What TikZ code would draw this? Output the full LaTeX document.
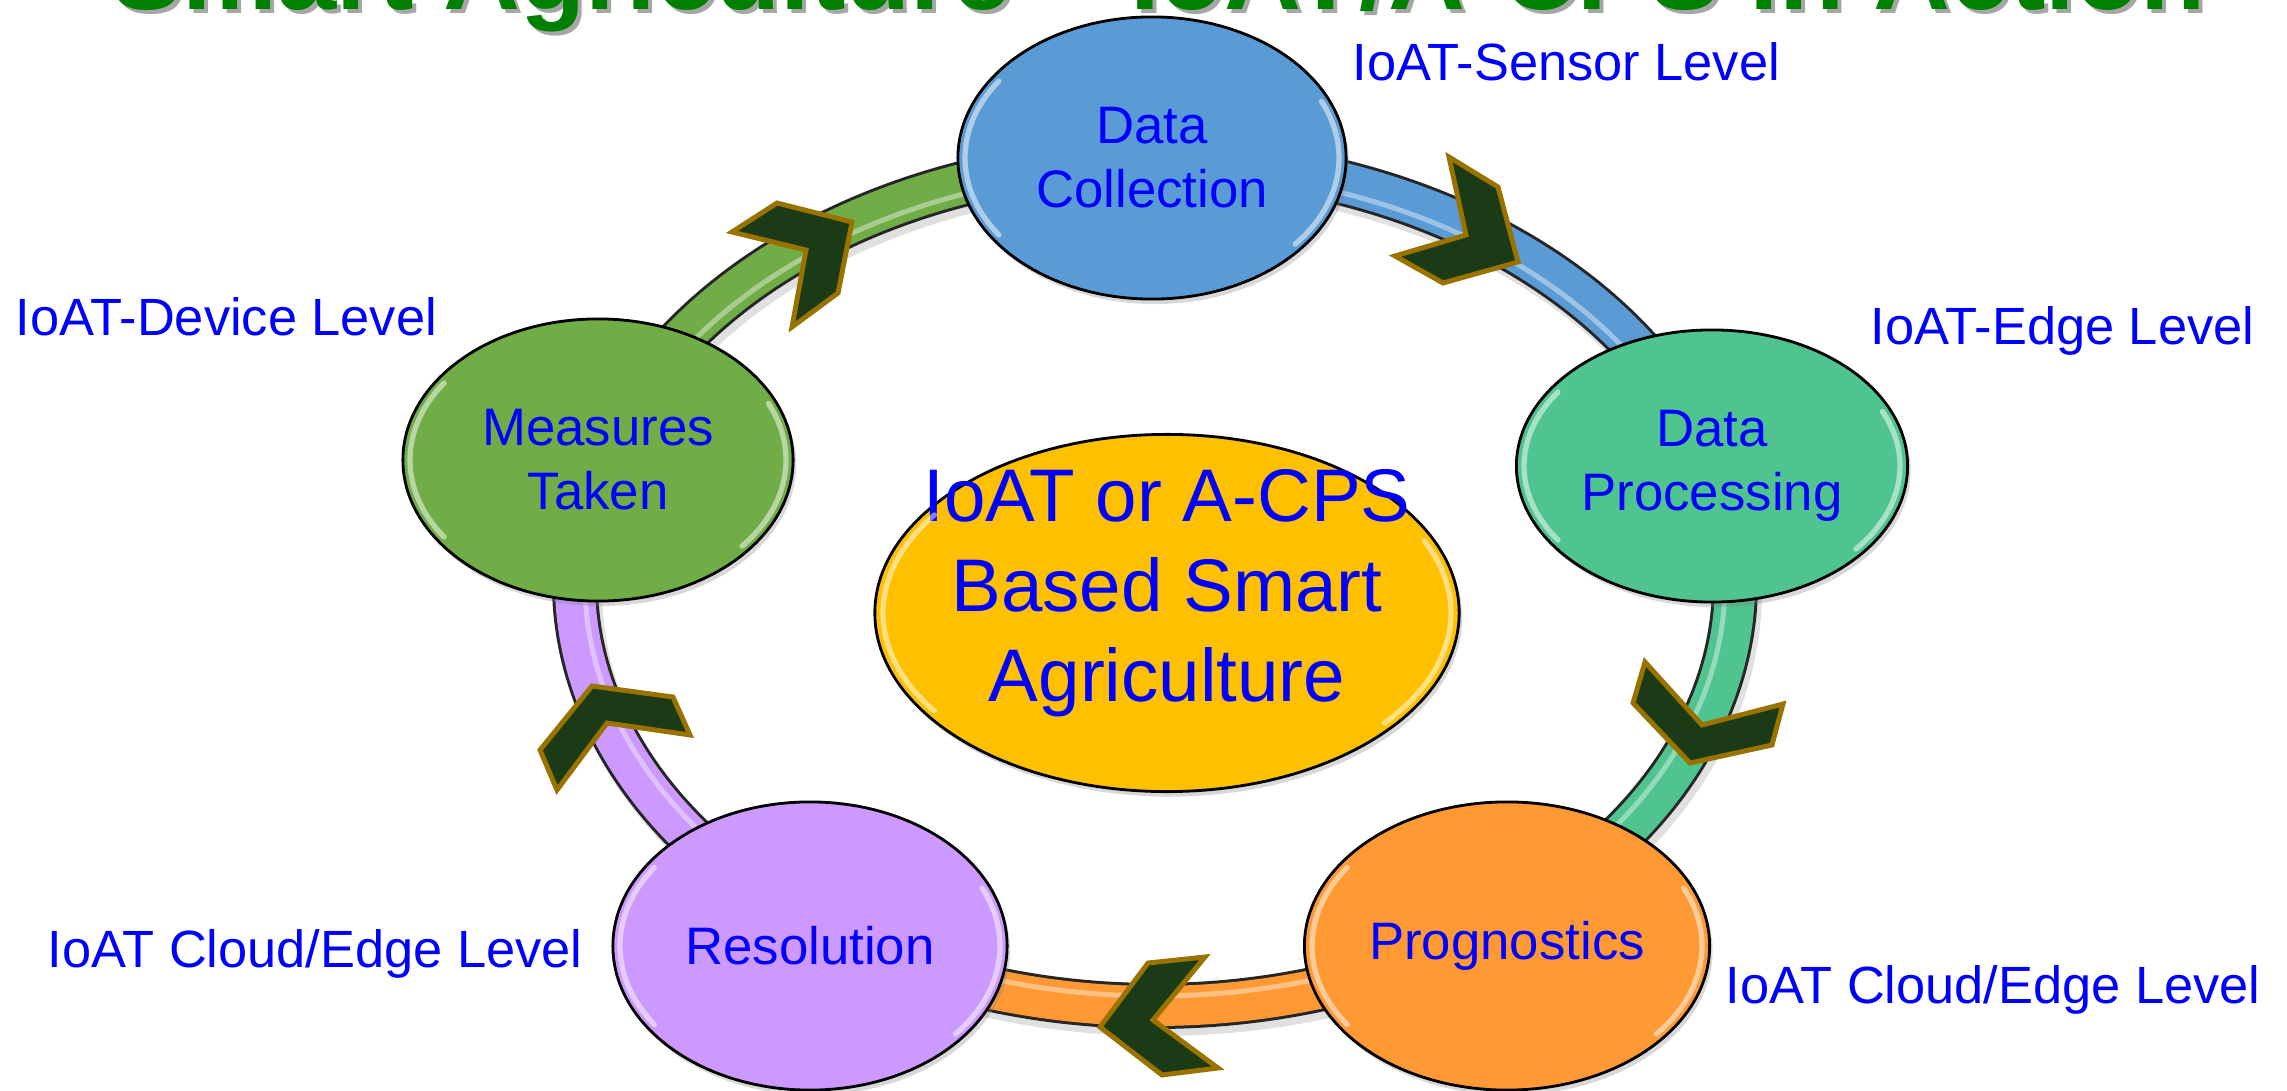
\documentclass[tikz,border=0pt]{standalone}
\usepackage{fontspec}
\setmainfont{Liberation Sans}
\usetikzlibrary{shapes.geometric,shadows,calc}

\definecolor{cBlue}{HTML}{5B9BD5}
\definecolor{cTeal}{HTML}{4FC48E}
\definecolor{cGreen}{HTML}{70AD47}
\definecolor{cPurple}{HTML}{CC99FF}
\definecolor{cOrange}{HTML}{FF9933}
\definecolor{cGold}{HTML}{FFC000}
\definecolor{chevFill}{HTML}{1B3A16}
\definecolor{chevLine}{HTML}{9A7200}
\definecolor{txtBlue}{HTML}{0000FF}
\definecolor{titleGreen}{HTML}{008000}

\newcommand{\ringseg}[3]{%
  \draw[line width=0.46cm, black!85] (ringc) ++(#2:580 and 423) arc[start angle=#2, end angle=#3, x radius=580, y radius=423];
  \draw[line width=0.40cm, #1] (ringc) ++(#2:580 and 423) arc[start angle=#2, end angle=#3, x radius=580, y radius=423];
  \draw[line width=0.05cm, white, opacity=0.4] (ringc) ++(#2:570 and 413) arc[start angle=#2, end angle=#3, x radius=570, y radius=413];
}
\newcommand{\glossy}[3]{%
  \draw[white, opacity=0.5, line width=1.5pt, line cap=round] (#1.center) ++(145:#2 and #3) arc[start angle=145, end angle=215, x radius=#2, y radius=#3];
  \draw[white, opacity=0.5, line width=1.5pt, line cap=round] (#1.center) ++(-40:#2 and #3) arc[start angle=-40, end angle=25, x radius=#2, y radius=#3];
}

\begin{document}
\begin{tikzpicture}[x=0.01cm,y=0.01cm,
  stage/.style={ellipse, draw=black, line width=0.8pt, inner sep=0pt, align=center,
    text=txtBlue, font=\fontsize{15pt}{18.2pt}\selectfont,
    drop shadow={shadow xshift=0.03cm, shadow yshift=-0.05cm, opacity=0.3}},
  level/.style={anchor=base west, inner sep=0pt, text=txtBlue, font=\fontsize{14.9pt}{18pt}\selectfont},
  chev/.style={fill=chevFill, draw=chevLine, line width=1.4pt, line join=miter},
  ]
\useasboundingbox (0,0) rectangle (2287,-1091);
\fill[white] (0,0) rectangle (2287,-1091);
\clip (0,0) rectangle (2287,-1091);

% title (cut off at the top)
\node[anchor=base west, inner sep=0pt, text=black!35, font=\fontsize{30.3pt}{32pt}\selectfont\bfseries] (titleshadow) at (115,-14) {Smart Agriculture – IoAT/A-CPS in Action};
\node[anchor=base west, inner sep=0pt, text=titleGreen, font=\fontsize{30.3pt}{32pt}\selectfont\bfseries] (title) at (111,-10) {Smart Agriculture – IoAT/A-CPS in Action};

% ring
\coordinate (ringc) at (1155,-583);
\draw[line width=0.46cm, black, opacity=0.12] ($(ringc)+(4,-7)$) ellipse[x radius=580, y radius=423];
\ringseg{cBlue}{90}{16}
\ringseg{cTeal}{16}{-55}
\ringseg{cOrange}{-55}{-125}
\ringseg{cPurple}{-125}{-197}
\ringseg{cGreen}{163}{90}

% stages
\node[stage, fill=cBlue, minimum width=3.88cm, minimum height=2.82cm] (dc) at (1152,-158) {Data\\Collection};
\node[stage, fill=cTeal, minimum width=3.91cm, minimum height=2.72cm] (dp) at (1712,-466) {Data\\Processing};
\node[stage, fill=cOrange, minimum width=4.05cm, minimum height=2.88cm] (pr) at (1507,-946) {Prognostics};
\node[stage, fill=cPurple, minimum width=3.94cm, minimum height=2.88cm] (rs) at (810,-946) {Resolution};
\node[stage, fill=cGreen, minimum width=3.90cm, minimum height=2.82cm] (mt) at (598,-460) {Measures\\Taken};
\node[stage, fill=cGold, minimum width=5.84cm, minimum height=3.57cm] (core) at (1167,-613) {};
\node[text=txtBlue, align=center, inner sep=0pt, font=\fontsize{21.2pt}{25.6pt}\selectfont] (coretext) at (1167,-593) {IoAT or A-CPS\\Based Smart\\Agriculture};

\glossy{dc}{187}{134}
\glossy{dp}{188}{129}
\glossy{pr}{195}{137}
\glossy{rs}{190}{137}
\glossy{mt}{188}{134}
\glossy{core}{284}{171}

% chevrons
\draw[chev] (732,-232) -- (777,-203) -- (852,-222) -- (838,-293) -- (792,-327) -- (806,-250) -- cycle;
\draw[chev] (1449,-157) -- (1498,-187) -- (1518,-262) -- (1443,-283) -- (1395,-256) -- (1466,-235) -- cycle;
\draw[chev] (1645,-662) -- (1702,-725) -- (1783,-704) -- (1772,-745) -- (1690,-763) -- (1633,-703) -- cycle;
\draw[chev] (1100,-1027) -- (1148,-963) -- (1205,-957) -- (1153,-1020) -- (1218,-1068) -- (1162,-1075) -- cycle;
\draw[chev] (592,-686) -- (673,-697) -- (690,-735) -- (607,-723) -- (557,-790) -- (540,-750) -- cycle;

% level labels
\node[level] (lsensor) at (1352,-81) {IoAT-Sensor Level};
\node[level] (ldevice) at (15,-335) {IoAT-Device Level};
\node[level] (ledge) at (1870,-344) {IoAT-Edge Level};
\node[level] (lcloudl) at (47,-967) {IoAT Cloud/Edge Level};
\node[level] (lcloudr) at (1725,-1003) {IoAT Cloud/Edge Level};
\end{tikzpicture}
\end{document}
